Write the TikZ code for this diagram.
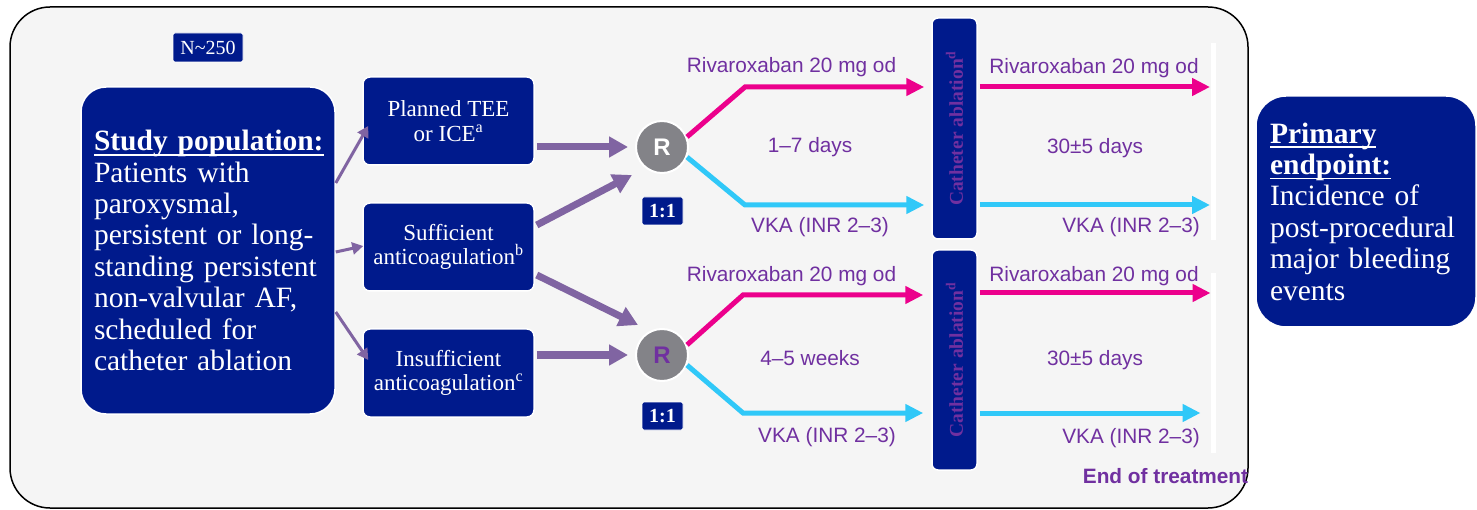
\documentclass[tikz,border=0pt]{standalone}
\usepackage{fontspec}
\setmainfont{Liberation Serif}
\newfontfamily\arialfont{Liberation Sans}
\usetikzlibrary{arrows.meta,calc}

\definecolor{navy}{HTML}{001A8C}
\definecolor{panelgray}{HTML}{F5F5F5}
\definecolor{lavender}{HTML}{8064A2}
\definecolor{labelpurple}{HTML}{7030A0}
\definecolor{rivapink}{HTML}{EC008C}
\definecolor{vkablue}{HTML}{30C8F8}
\definecolor{randgray}{HTML}{838388}

% heading underline that sits a little below the baseline
\newcommand\headul[1]{\leavevmode\setbox0\hbox{#1}\rlap{\rule[-5pt]{\wd0}{1.8pt}}\box0}

\begin{document}
\begin{tikzpicture}[x=1pt,y=-1pt,
  box/.style={fill=navy, draw=white, line width=1.5pt, text=white, inner sep=0pt},
  bigfont/.style={font=\fontsize{29.5}{31.4}\selectfont},
  midfont/.style={font=\fontsize{23}{24.5}\selectfont},
  midbox/.style={box, rounded corners=7pt, minimum width=171pt, minimum height=88pt, align=center, midfont},
  lbl/.style={text=labelpurple, font=\arialfont\fontsize{20.8}{24}\selectfont, inner sep=0pt},
  thinarrow/.style={draw=lavender, line width=3pt, -{Triangle[length=11pt,width=12pt]}},
  thickarrow/.style={draw=lavender, line width=7pt, -{Triangle[length=19pt,width=20pt]}},
  rivaline/.style={draw=rivapink, line width=5pt, -{Triangle[length=18pt,width=17pt]}},
  vkaline/.style={draw=vkablue, line width=5pt, -{Triangle[length=18pt,width=17pt]}},
  rand/.style={circle, fill=randgray, draw=white, line width=2pt, minimum size=52pt, inner sep=0pt, font=\arialfont\bfseries\fontsize{24}{24}\selectfont},
  ratio/.style={box, line width=0.8pt, minimum width=41pt, minimum height=28pt, rounded corners=2pt, font=\bfseries\fontsize{20}{20}\selectfont},
  ablation/.style={box, minimum width=45pt, minimum height=221pt, rounded corners=6pt},
  ablationtext/.style={text=labelpurple, inner sep=0pt, font=\bfseries\fontsize{19.5}{20}\selectfont},
  endbar/.style={draw=white, line width=5pt},
]
\useasboundingbox (0,0) rectangle (1477,510);

% outer panel
\draw[line width=1.5pt, fill=panelgray, rounded corners=40pt] (10,7) rectangle (1248,508);

% primary endpoint
\node[box, rounded corners=30pt, minimum width=220pt, minimum height=231pt,
      text width=192pt, align=left, bigfont] (pe) at (1366,211.5)
  {\headul{\bfseries Primary}\\ \headul{\bfseries endpoint:}\\ Incidence of\\ post-procedural\\ major bleeding\\ events};

% sample size
\node[box, line width=0.8pt, rounded corners=2pt, minimum width=70pt, minimum height=29pt,
      font=\fontsize{20}{20}\selectfont] (n) at (208,47.5) {N\textasciitilde250};

% study population
\node[box, rounded corners=25pt, minimum width=254pt, minimum height=327pt,
      text width=228pt, align=left, bigfont] (sp) at (208,250.5)
  {\headul{\bfseries Study population:}\\ Patients with\\ paroxysmal,\\ persistent or long-\\ standing persistent\\ non-valvular AF,\\ scheduled for\\ catheter ablation};

% anticoagulation strata
\node[midbox] (pl) at (448.5,121) {Planned TEE\\ or ICE\textsuperscript{a}};
\node[midbox] (su) at (448.5,247) {Sufficient\\ anticoagulation\textsuperscript{b}};
\node[midbox] (insuf) at (448.5,373) {Insufficient\\ anticoagulation\textsuperscript{c}};

% randomisation
\node[rand, text=white] (r1) at (662,147) {R};
\node[rand, text=labelpurple] (r2) at (662,355) {R};
\node[ratio] (q1) at (662.5,211) {1:1};
\node[ratio] (q2) at (662.5,416) {1:1};

% population to strata
\draw[thinarrow] (sp.east |- 0,183) -- ([xshift=6pt]pl.west |- 0,126);
\draw[thinarrow] (sp.east |- 0,252) -- ([xshift=1pt]su.west |- 0,246);
\draw[thinarrow] (sp.east |- 0,312) -- ([xshift=6pt]insuf.west |- 0,360);

% strata to randomisation
\draw[thickarrow] ([xshift=2pt]pl.east |- r1) -- ([xshift=-7pt]r1.west);
\draw[thickarrow] ([xshift=2pt]su.east |- 0,225) -- ($(r1)+(-30,28)$);
\draw[thickarrow] ([xshift=2pt]su.east |- 0,275) -- ($(r2)+(-24,-30)$);
\draw[thickarrow] ([xshift=2pt]insuf.east |- r2) -- ([xshift=-7pt]r2.west);

% catheter ablation
\node[ablation] (ca1) at (954.5,128.5) {};
\node[ablationtext, rotate=90] (ca1t) at (ca1) {Catheter ablation\textsuperscript{d}};
\node[ablation, minimum height=220pt] (ca2) at (954.5,360) {};
\node[ablationtext, rotate=90] (ca2t) at (ca2) {Catheter ablation\textsuperscript{d}};

% end of treatment bars
\coordinate (eb1t) at (1213,43);
\coordinate (eb1b) at (1213,240);
\coordinate (eb2t) at (1213.5,273);
\coordinate (eb2b) at (1213.5,453);
\draw[endbar] (eb1t) -- (eb1b);
\draw[endbar] (eb2t) -- (eb2b);

% treatment arms, uninterrupted strategy
\draw[rivaline] (r1.22) -- (745,87) -- ([xshift=-7pt]ca1.west |- 0,87);
\draw[vkaline] (r1.-22) -- (745,205) -- ([xshift=-7pt]ca1.west |- 0,205);
\draw[rivaline] ([xshift=2pt]ca1.east |- 0,87) -- ([xshift=-3pt]eb1t |- 0,87);
\draw[vkaline] ([xshift=2pt]ca1.east |- 0,205) -- ([xshift=-3pt]eb1t |- 0,205);

% treatment arms, pre-treatment strategy
\draw[rivaline] (r2.22) -- (743,295) -- ([xshift=-8pt]ca2.west |- 0,295);
\draw[vkaline] (r2.-22) -- (743,413) -- ([xshift=-8pt]ca2.west |- 0,413);
\draw[rivaline] ([xshift=2pt]ca2.east |- 0,293) -- ([xshift=-3pt]eb2t |- 0,293);
\draw[vkaline] ([xshift=2pt]ca2.east |- 0,413) -- ([xshift=-13pt]eb2t |- 0,413);

% arm labels
\node[lbl, anchor=base] (riva1) at (791.5,73) {Rivaroxaban 20 mg od};
\node[lbl, anchor=base] (days1) at (810,153) {1–7 days};
\node[lbl, anchor=base] (vka1) at (820,233) {VKA (INR 2–3)};
\node[lbl, anchor=base] (riva2) at (1094,74) {Rivaroxaban 20 mg od};
\node[lbl, anchor=base] (fu1) at (1095,154) {30±5 days};
\node[lbl, anchor=base east] (vka2) at (1200,233) {VKA (INR 2–3)};

\node[lbl, anchor=base] (riva3) at (791.5,282) {Rivaroxaban 20 mg od};
\node[lbl, anchor=base] (weeks) at (810,366) {4–5 weeks};
\node[lbl, anchor=base] (vka3) at (827,442) {VKA (INR 2–3)};
\node[lbl, anchor=base] (riva4) at (1094,282) {Rivaroxaban 20 mg od};
\node[lbl, anchor=base] (fu2) at (1095,366) {30±5 days};
\node[lbl, anchor=base east] (vka4) at (1200,443) {VKA (INR 2–3)};

\node[lbl, font=\arialfont\bfseries\fontsize{20.8}{24}\selectfont, anchor=base] (eot) at (1165.5,483) {End of treatment};
\end{tikzpicture}
\end{document}
